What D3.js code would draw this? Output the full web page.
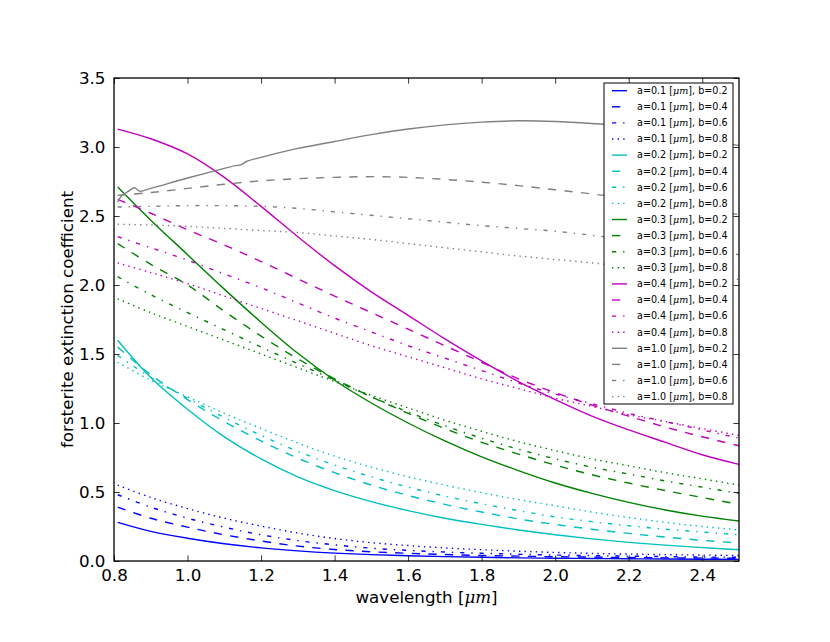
<!DOCTYPE html>
<html>
<head>
<meta charset="utf-8">
<script src="https://cdn.jsdelivr.net/npm/d3@7"></script>
<style>
  html, body { margin: 0; padding: 0; background: #fff; }
  #chart { width: 830px; height: 642px; }
  text { font-family: "DejaVu Sans", sans-serif; fill: #000; }
</style>
</head>
<body>
<div id="chart"></div>
<script>
// Forsterite extinction coefficient vs wavelength, one curve per (a, b) pair.
var wl = [0.81, 0.9, 1.0, 1.1, 1.2, 1.3, 1.4, 1.5, 1.6, 1.7, 1.8, 1.9, 2.0, 2.1, 2.2, 2.3, 2.4, 2.5];

var blue02 = [0.28, 0.215, 0.165, 0.125, 0.095, 0.073, 0.057, 0.046, 0.038, 0.032, 0.027, 0.023, 0.020, 0.018, 0.016, 0.014, 0.013, 0.012];
var blue04 = [0.39, 0.31, 0.245, 0.19, 0.145, 0.108, 0.083, 0.067, 0.056, 0.047, 0.04, 0.035, 0.031, 0.028, 0.025, 0.023, 0.021, 0.02];
var blue06 = [0.48, 0.39, 0.31, 0.245, 0.19, 0.148, 0.117, 0.093, 0.077, 0.065, 0.056, 0.049, 0.043, 0.039, 0.035, 0.032, 0.029, 0.027];
var blue08 = [0.55, 0.46, 0.38, 0.31, 0.253, 0.203, 0.163, 0.133, 0.112, 0.095, 0.082, 0.071, 0.062, 0.055, 0.05, 0.046, 0.043, 0.04];

var cyan02 = [1.60, 1.33, 1.10, 0.90, 0.74, 0.61, 0.51, 0.43, 0.365, 0.31, 0.265, 0.225, 0.19, 0.16, 0.135, 0.115, 0.097, 0.082];
var cyan04 = [1.55, 1.35, 1.17, 1.01, 0.87, 0.745, 0.64, 0.55, 0.475, 0.41, 0.355, 0.305, 0.265, 0.23, 0.2, 0.173, 0.15, 0.13];
var cyan06 = [1.49, 1.33, 1.18, 1.04, 0.91, 0.795, 0.695, 0.61, 0.535, 0.47, 0.415, 0.365, 0.32, 0.285, 0.255, 0.23, 0.21, 0.19];
var cyan08 = [1.44, 1.31, 1.19, 1.07, 0.96, 0.855, 0.76, 0.68, 0.61, 0.55, 0.495, 0.445, 0.40, 0.355, 0.315, 0.28, 0.25, 0.225];

var green02 = [2.71, 2.47, 2.22, 1.97, 1.73, 1.505, 1.31, 1.145, 1.0, 0.87, 0.755, 0.655, 0.565, 0.49, 0.425, 0.37, 0.325, 0.29];
var green04 = [2.30, 2.15, 2.00, 1.81, 1.63, 1.465, 1.32, 1.19, 1.07, 0.96, 0.86, 0.775, 0.695, 0.625, 0.565, 0.51, 0.46, 0.41];
var green06 = [2.06, 1.93, 1.80, 1.675, 1.55, 1.43, 1.31, 1.19, 1.08, 0.98, 0.89, 0.81, 0.74, 0.68, 0.63, 0.58, 0.535, 0.49];
var green08 = [1.90, 1.80, 1.70, 1.60, 1.50, 1.40, 1.30, 1.20, 1.11, 1.02, 0.94, 0.865, 0.80, 0.74, 0.69, 0.64, 0.595, 0.55];

var mag02 = [3.13, 3.06, 2.95, 2.78, 2.57, 2.35, 2.14, 1.95, 1.78, 1.61, 1.45, 1.30, 1.17, 1.05, 0.95, 0.86, 0.77, 0.70];
var mag04 = [2.62, 2.52, 2.40, 2.29, 2.17, 2.045, 1.92, 1.80, 1.68, 1.56, 1.44, 1.32, 1.22, 1.13, 1.05, 0.97, 0.90, 0.835];
var mag06 = [2.35, 2.27, 2.18, 2.08, 1.98, 1.87, 1.76, 1.66, 1.56, 1.47, 1.38, 1.29, 1.21, 1.14, 1.07, 1.01, 0.95, 0.89];
var mag08 = [2.16, 2.09, 2.01, 1.92, 1.83, 1.74, 1.65, 1.56, 1.48, 1.40, 1.32, 1.25, 1.18, 1.12, 1.06, 1.01, 0.96, 0.91];

// the a=1.0, b=0.2 curve is sampled more finely (wiggle near the start)
var wlGray02 = [0.81, 0.82, 0.84, 0.855, 0.87, 0.9, 1.0, 1.1, 1.13, 1.145, 1.16, 1.2, 1.3, 1.4, 1.5, 1.6, 1.7, 1.8, 1.9, 2.0, 2.1, 2.2, 2.3, 2.4, 2.5];
var gray02 = [2.60, 2.645, 2.68, 2.705, 2.68, 2.70, 2.775, 2.845, 2.865, 2.87, 2.895, 2.925, 2.99, 3.04, 3.09, 3.13, 3.16, 3.18, 3.19, 3.185, 3.17, 3.15, 3.11, 3.06, 3.01];
var gray04 = [2.65, 2.67, 2.70, 2.73, 2.755, 2.77, 2.78, 2.785, 2.78, 2.765, 2.745, 2.72, 2.69, 2.66, 2.625, 2.59, 2.55, 2.51];
var gray06 = [2.565, 2.57, 2.575, 2.575, 2.57, 2.555, 2.53, 2.505, 2.48, 2.455, 2.43, 2.41, 2.39, 2.36, 2.33, 2.295, 2.26, 2.22];
var gray08 = [2.44, 2.435, 2.425, 2.41, 2.395, 2.38, 2.355, 2.33, 2.30, 2.27, 2.24, 2.21, 2.185, 2.16, 2.13, 2.10, 2.07, 2.04];

var sizesA = ['0.1', '0.2', '0.3', '0.4', '1.0'];
var shapesB = ['0.2', '0.4', '0.6', '0.8'];
var xTicks = [0.8, 1.0, 1.2, 1.4, 1.6, 1.8, 2.0, 2.2, 2.4];
var yTicks = [0.0, 0.5, 1.0, 1.5, 2.0, 2.5, 3.0, 3.5];

(function () {
    var W = 830, H = 642;
    var left = 114, right = 739, top = 78, bottom = 561;

    var colors = ['#0000ff', '#00bfbf', '#008000', '#bf00bf', '#808080'];
    // matplotlib 1.x dash patterns at 1pt = 1.39px
    var dashes = [null, '8.3,8.3', '4.2,6.9,1.4,6.9', '1.4,4.2'];

    var values = [
        [blue02, blue04, blue06, blue08],
        [cyan02, cyan04, cyan06, cyan08],
        [green02, green04, green06, green08],
        [mag02, mag04, mag06, mag08],
        [gray02, gray04, gray06, gray08]
    ];

    var series = [];
    sizesA.forEach(function (a, i) {
        shapesB.forEach(function (b, j) {
            var xs = (i === 4 && j === 0) ? wlGray02 : wl;
            series.push({
                a: a, b: b,
                color: colors[i], dash: dashes[j],
                pts: xs.map(function (w, k) { return [w, values[i][j][k]]; })
            });
        });
    });

    var svg = d3.select('#chart').append('svg')
        .attr('width', W).attr('height', H)
        .attr('viewBox', '0 0 ' + W + ' ' + H);

    var x = d3.scaleLinear().domain([0.8, 2.5]).range([left, right]);
    var y = d3.scaleLinear().domain([0, 3.5]).range([bottom, top]);

    svg.append('clipPath').attr('id', 'plotclip')
        .append('rect')
        .attr('x', left).attr('y', top)
        .attr('width', right - left).attr('height', bottom - top);

    var line = d3.line()
        .x(function (d) { return x(d[0]); })
        .y(function (d) { return y(d[1]); })
        .curve(d3.curveCatmullRom.alpha(0.5));

    var gLines = svg.append('g').attr('clip-path', 'url(#plotclip)');
    series.forEach(function (s) {
        gLines.append('path')
            .datum(s.pts)
            .attr('d', line)
            .attr('fill', 'none')
            .attr('stroke', s.color)
            .attr('stroke-width', 1.4)
            .attr('stroke-dasharray', s.dash);
    });

    // axes: ticks point inward on all four sides, labels only left/bottom
    var tickLen = 5.6;
    function style(g) {
        g.selectAll('.tick line').attr('stroke', '#000').attr('stroke-width', 0.8);
        g.selectAll('.domain').remove();
        g.selectAll('text').style('font-size', '16.7px');
    }
    var xAxis = svg.append('g')
        .attr('transform', 'translate(0,' + bottom + ')')
        .call(d3.axisBottom(x).tickValues(xTicks).tickSizeInner(-tickLen)
            .tickSizeOuter(0).tickPadding(8).tickFormat(d3.format('.1f')));
    var xTop = svg.append('g')
        .attr('transform', 'translate(0,' + top + ')')
        .call(d3.axisTop(x).tickValues(xTicks).tickSizeInner(-tickLen)
            .tickSizeOuter(0).tickFormat(''));
    var yAxis = svg.append('g')
        .attr('transform', 'translate(' + left + ',0)')
        .call(d3.axisLeft(y).tickValues(yTicks).tickSizeInner(-tickLen)
            .tickSizeOuter(0).tickPadding(8.5).tickFormat(d3.format('.1f')));
    var yRight = svg.append('g')
        .attr('transform', 'translate(' + right + ',0)')
        .call(d3.axisRight(y).tickValues(yTicks).tickSizeInner(-tickLen)
            .tickSizeOuter(0).tickFormat(''));
    [xAxis, xTop, yAxis, yRight].forEach(style);

    svg.append('rect')
        .attr('x', left).attr('y', top)
        .attr('width', right - left).attr('height', bottom - top)
        .attr('fill', 'none').attr('stroke', '#000').attr('stroke-width', 1.3);

    // axis titles
    var xl = svg.append('text')
        .attr('x', (left + right) / 2).attr('y', 603)
        .attr('text-anchor', 'middle')
        .style('font-size', '16.7px');
    xl.append('tspan').text('wavelength [');
    xl.append('tspan').text('\u03bcm')
        .style('font-family', '"DejaVu Serif", serif').style('font-style', 'italic');
    xl.append('tspan').text(']');

    svg.append('text')
        .attr('transform', 'translate(73,' + ((top + bottom) / 2) + ') rotate(-90)')
        .attr('text-anchor', 'middle')
        .style('font-size', '16.7px')
        .text('forsterite extinction coefficient');

    // legend
    var lx = 604, ly = 83, lw = 129, lh = 321;
    var row0 = 90.7, step = 16.1;
    var gLeg = svg.append('g');
    gLeg.append('rect')
        .attr('x', lx).attr('y', ly).attr('width', lw).attr('height', lh)
        .attr('fill', '#fff').attr('stroke', '#000').attr('stroke-width', 1);
    series.forEach(function (s, i) {
        var yy = row0 + i * step;
        gLeg.append('line')
            .attr('x1', 612).attr('x2', 627)
            .attr('y1', yy).attr('y2', yy)
            .attr('stroke', s.color).attr('stroke-width', 1.4)
            .attr('stroke-dasharray', s.dash);
        var t = gLeg.append('text')
            .attr('x', 637).attr('y', yy).attr('dy', '0.35em')
            .style('font-size', '9.6px');
        t.append('tspan').text('a=' + s.a + ' [');
        t.append('tspan').text('\u03bcm')
            .style('font-family', '"DejaVu Serif", serif').style('font-style', 'italic');
        t.append('tspan').text('], b=' + s.b);
    });
})();
</script>
</body>
</html>
